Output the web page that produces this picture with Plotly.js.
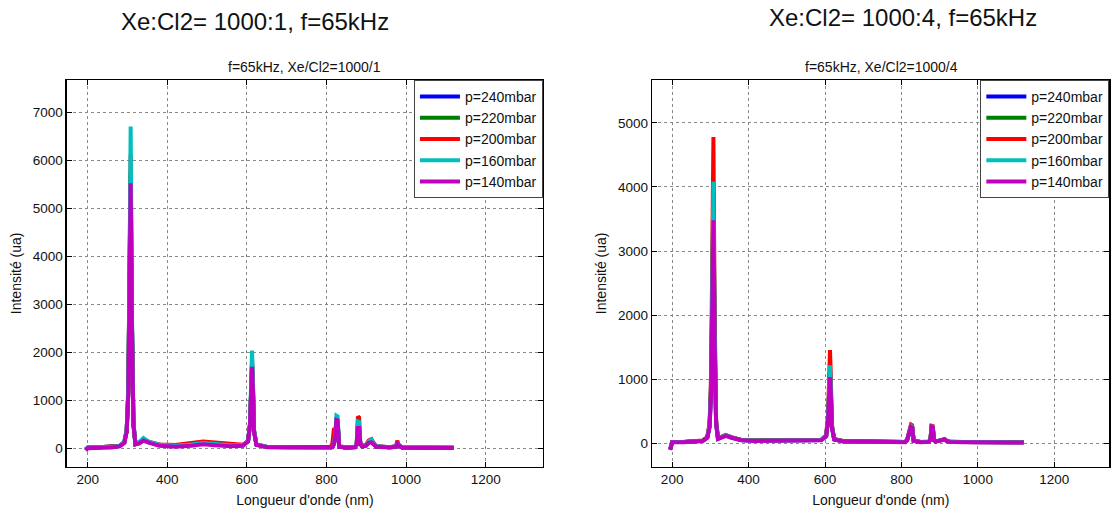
<!DOCTYPE html>
<html>
<head>
<meta charset="utf-8">
<script src="https://cdn.plot.ly/plotly-3.0.1.min.js"></script>
<style>html,body{margin:0;padding:0;background:#fff;}#chart{width:1111px;height:508px;}</style>
</head>
<body>
<div id="chart"></div>
<script>
// Wavelengths (nm) sampled along the spectra
const wavelength = [195, 200, 230, 260, 280, 292, 298, 302, 305, 308, 311, 315, 320, 330, 340, 355, 380, 420, 460, 490, 520, 560, 590, 603, 608, 611, 613, 615, 618, 624, 650, 700, 760, 810, 815, 819, 822, 825, 828, 832, 850, 872, 876, 879, 882, 885, 890, 900, 906, 913, 918, 925, 960, 975, 978, 982, 990, 1040, 1080, 1120];

const seriesNames = ["p=240mbar", "p=220mbar", "p=200mbar", "p=160mbar", "p=140mbar"];
const seriesColors = ["#0000ff", "#008000", "#ff0000", "#00bfbf", "#bf00bf"];

// Xe:Cl2 = 1000:1
const r1_p240 = [-20, 20, 28, 32, 55, 130, 370, 1150, 3150, 5700, 2700, 500, 95, 120, 180, 130, 75, 60, 90, 120, 100, 70, 70, 160, 500, 1250, 1750, 1350, 360, 85, 35, 30, 22, 15, 35, 110, 260, 550, 540, 45, 22, 32, 90, 450, 440, 100, 45, 70, 130, 150, 100, 45, 28, 45, 110, 65, 25, 18, 18, 18];
const r1_p220 = [-20, 20, 28, 32, 55, 130, 370, 1150, 3200, 5800, 2700, 500, 95, 125, 185, 130, 80, 65, 100, 130, 110, 75, 70, 160, 510, 1260, 1760, 1360, 360, 85, 35, 30, 22, 15, 35, 110, 260, 550, 540, 45, 22, 32, 90, 460, 450, 100, 45, 70, 130, 150, 100, 45, 28, 45, 110, 65, 25, 18, 18, 18];
const r1_p200 = [-10, 25, 30, 35, 55, 130, 380, 1200, 3300, 6100, 2800, 520, 100, 130, 190, 140, 90, 75, 120, 150, 130, 100, 80, 160, 520, 1300, 1850, 1400, 380, 90, 40, 35, 25, 20, 120, 430, 200, 520, 500, 50, 25, 40, 120, 670, 650, 120, 60, 90, 170, 200, 130, 50, 30, 60, 166, 80, 30, 20, 20, 20];
const r1_p160 = [-20, 20, 30, 35, 60, 140, 400, 1300, 3600, 6700, 3000, 550, 110, 140, 220, 140, 80, 60, 90, 120, 100, 70, 70, 170, 550, 1400, 2040, 1500, 400, 90, 40, 35, 25, 15, 40, 120, 300, 685, 670, 50, 25, 35, 100, 570, 560, 110, 50, 80, 150, 190, 120, 50, 30, 50, 120, 70, 25, 20, 20, 20];
const r1_p140 = [-40, 10, 20, 25, 50, 120, 350, 1100, 3000, 5520, 2600, 500, 90, 110, 170, 120, 60, 40, 60, 90, 70, 50, 60, 150, 500, 1200, 1700, 1300, 350, 80, 30, 30, 20, 10, 30, 100, 250, 600, 590, 40, 20, 30, 80, 430, 430, 100, 40, 60, 120, 130, 90, 40, 25, 40, 100, 60, 20, 15, 15, 15];

// Xe:Cl2 = 1000:4
const r4_p240 = [-90, 25, 25, 28, 42, 95, 270, 860, 2000, 3700, 1700, 320, 75, 95, 125, 95, 55, 45, 45, 50, 45, 45, 55, 115, 370, 800, 1100, 850, 260, 65, 32, 32, 22, 22, 55, 125, 210, 265, 255, 42, 22, 27, 65, 255, 250, 55, 32, 42, 55, 65, 42, 27, 22, 22, 28, 22, 22, 18, 18, 18];
const r4_p220 = [-90, 25, 25, 28, 42, 95, 280, 900, 2100, 3900, 1800, 330, 75, 95, 125, 95, 55, 45, 45, 50, 45, 45, 55, 118, 385, 840, 1150, 880, 265, 65, 32, 32, 22, 22, 55, 125, 215, 270, 260, 42, 22, 27, 65, 260, 255, 55, 32, 42, 55, 65, 42, 27, 22, 22, 28, 22, 22, 18, 18, 18];
const r4_p200 = [-95, 25, 25, 30, 45, 100, 320, 1100, 2600, 4780, 2200, 380, 80, 100, 135, 100, 60, 50, 50, 55, 50, 50, 60, 130, 450, 1050, 1455, 1100, 300, 70, 35, 35, 25, 25, 60, 130, 230, 296, 285, 45, 25, 30, 70, 275, 270, 60, 35, 45, 60, 70, 45, 30, 25, 25, 30, 25, 25, 20, 20, 20];
const r4_p160 = [-95, 25, 25, 28, 42, 95, 290, 950, 2250, 4080, 1900, 340, 75, 95, 130, 95, 55, 45, 45, 50, 45, 45, 55, 120, 400, 880, 1220, 920, 270, 65, 32, 32, 22, 22, 55, 125, 215, 275, 265, 42, 22, 27, 65, 265, 260, 55, 32, 42, 55, 65, 42, 27, 22, 22, 28, 22, 22, 18, 18, 18];
const r4_p140 = [-100, 20, 20, 25, 40, 90, 250, 800, 1900, 3480, 1600, 300, 70, 90, 120, 90, 50, 40, 40, 45, 40, 40, 50, 110, 350, 750, 1030, 800, 250, 60, 30, 30, 20, 20, 50, 120, 200, 260, 250, 40, 20, 25, 60, 260, 250, 50, 30, 40, 50, 60, 40, 25, 20, 20, 25, 20, 20, 15, 15, 15];

const xTicks = [200, 400, 600, 800, 1000, 1200];
const yTicks1 = [0, 1000, 2000, 3000, 4000, 5000, 6000, 7000];
const yTicks4 = [0, 1000, 2000, 3000, 4000, 5000];

const FONT = "Arial, 'Liberation Sans', sans-serif";
const set1 = [r1_p240, r1_p220, r1_p200, r1_p160, r1_p140];
const set4 = [r4_p240, r4_p220, r4_p200, r4_p160, r4_p140];

const traces = [];
set1.forEach((ys, i) => traces.push({
  x: wavelength, y: ys, type: 'scatter', mode: 'lines', name: seriesNames[i],
  line: {color: seriesColors[i], width: 4}, xaxis: 'x', yaxis: 'y', legend: 'legend'
}));
set4.forEach((ys, i) => traces.push({
  x: wavelength, y: ys, type: 'scatter', mode: 'lines', name: seriesNames[i],
  line: {color: seriesColors[i], width: 4}, xaxis: 'x2', yaxis: 'y2', legend: 'legend2'
}));

function xAxis(domain, anchor) {
  return {
    domain: domain, anchor: anchor, range: [148, 1344], tickvals: xTicks,
    showgrid: true, gridcolor: '#8a8a8a', griddash: 'dot', gridwidth: 1,
    ticks: 'inside', ticklen: 5, tickcolor: '#000', showline: true, linecolor: '#000', linewidth: 1.5,
    mirror: 'ticks', zeroline: false, tickfont: {family: FONT, size: 13.5, color: '#111'},
    title: {text: "Longueur d'onde (nm)", font: {family: FONT, size: 14, color: '#111'}, standoff: 10}
  };
}
function yAxis(domain, anchor, range, ticks) {
  return {
    domain: domain, anchor: anchor, range: range, tickvals: ticks,
    showgrid: true, gridcolor: '#8a8a8a', griddash: 'dot', gridwidth: 1,
    ticks: 'inside', ticklen: 5, tickcolor: '#000', showline: true, linecolor: '#000', linewidth: 1.5,
    mirror: 'ticks', zeroline: false, tickfont: {family: FONT, size: 13.5, color: '#111'},
    title: {text: 'Intensité (ua)', font: {family: FONT, size: 14, color: '#111'}, standoff: 8}
  };
}
const yDom = [0.0813, 0.8425];
const legendBase = {bgcolor: '#fff', bordercolor: '#444', borderwidth: 1, font: {family: FONT, size: 14, color: '#111'},
  yanchor: 'top', y: 0.8425, xanchor: 'right', tracegroupgap: 0, itemwidth: 40};

const layout = {
  width: 1111, height: 508, margin: {l: 0, r: 0, t: 0, b: 0},
  paper_bgcolor: '#fff', plot_bgcolor: '#fff', font: {family: FONT},
  xaxis: xAxis([0.0603, 0.4887], 'y'),
  yaxis: yAxis(yDom, 'x', [-374, 7665], yTicks1),
  xaxis2: xAxis([0.5871, 0.9985], 'y2'),
  yaxis2: yAxis(yDom, 'x2', [-362, 5668], yTicks4),
  legend: Object.assign({}, legendBase, {x: 0.4887}),
  legend2: Object.assign({}, legendBase, {x: 0.9985}),
  annotations: [
    {text: 'Xe:Cl2= 1000:1, f=65kHz', xref: 'paper', yref: 'paper', x: 0.2295, y: 0.9567, showarrow: false,
     xanchor: 'center', yanchor: 'middle', font: {family: FONT, size: 24, color: '#111'}},
    {text: 'Xe:Cl2= 1000:4, f=65kHz', xref: 'paper', yref: 'paper', x: 0.8128, y: 0.9646, showarrow: false,
     xanchor: 'center', yanchor: 'middle', font: {family: FONT, size: 24, color: '#111'}},
    {text: 'f=65kHz, Xe/Cl2=1000/1', xref: 'paper', yref: 'paper', x: 0.2745, y: 0.868, showarrow: false,
     xanchor: 'center', yanchor: 'middle', font: {family: FONT, size: 14, color: '#111'}},
    {text: 'f=65kHz, Xe/Cl2=1000/4', xref: 'paper', yref: 'paper', x: 0.793, y: 0.868, showarrow: false,
     xanchor: 'center', yanchor: 'middle', font: {family: FONT, size: 14, color: '#111'}}
  ]
};

Plotly.newPlot('chart', traces, layout, {displayModeBar: false, staticPlot: true});
</script>
</body>
</html>
